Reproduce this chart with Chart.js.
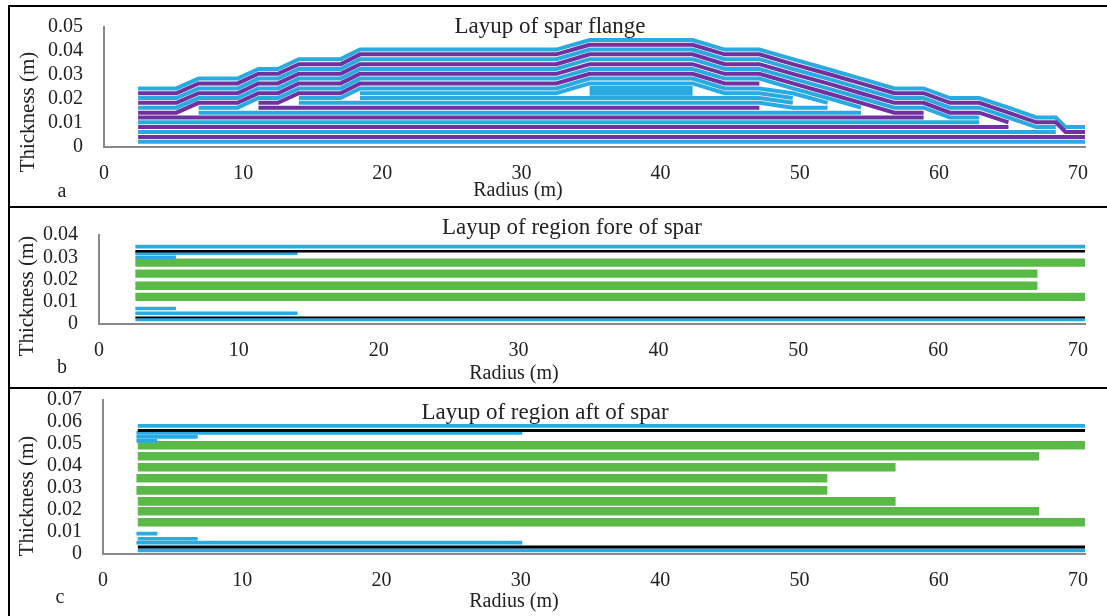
<!DOCTYPE html>
<html>
<head>
<meta charset="utf-8">
<script src="https://cdn.jsdelivr.net/npm/chart.js@4.4.1/dist/chart.umd.min.js"></script>
<style>
    html, body { margin: 0; padding: 0; background: #fff; overflow: hidden; }
    #wrap { position: relative; width: 1107px; height: 616px; }
    canvas { position: absolute; left: 0; }
    .frame { position: absolute; left: 8px; width: 1110px; border: 2px solid #000; box-sizing: border-box; pointer-events: none; }
</style>
</head>
<body>
<div id="wrap">
    <canvas id="flange" width="1107" height="207" style="top:0"></canvas>
    <canvas id="fore" width="1107" height="181" style="top:207px"></canvas>
    <canvas id="aft" width="1107" height="228" style="top:388px"></canvas>
    <div class="frame" style="top:5px;height:203px"></div>
    <div class="frame" style="top:206px;height:183px"></div>
    <div class="frame" style="top:387px;height:232px"></div>
</div>
<script>
// tick values
const radiusTicks = [0, 10, 20, 30, 40, 50, 60, 70];
const flangeTicks = [0, 0.01, 0.02, 0.03, 0.04, 0.05];
const foreTicks = [0, 0.01, 0.02, 0.03, 0.04];
const aftTicks = [0, 0.01, 0.02, 0.03, 0.04, 0.05, 0.06, 0.07];

// spar flange plies: [radius (m), thickness (m)]
const ply1 = [[2.45, .0022], [70.5, .0022]];
const ply2 = [[2.45, .0042], [70.5, .0042]];
const ply3 = [[2.45, .0063], [68.4, .0063]];
const ply4 = [[2.45, .0083], [65.0, .0083]];
const ply5 = [[2.45, .0103], [62.9, .0103]];
const ply6 = [[2.45, .0123], [58.9, .0123]];
const mid1 = [[6.8, .0143], [54.4, .0143]];
const mid2 = [[11.1, .0164], [47.1, .0164]];
const mid3 = [[14.0, .0184], [47.1, .0184], [49.5, .0164], [52.0, .0164]];
const mid4 = [[18.4, .0204], [47.1, .0204], [49.5, .0184]];
const block1 = [[34.9, .0224], [42.3, .0224]];
const block2 = [[34.9, .0244], [42.3, .0244]];
const mid5 = [[18.4, .0224], [32.5, .0224], [34.9, .0265], [42.3, .0265], [44.6, .0224], [47.1, .0224], [49.5, .0204]];
const mid6 = [[14.0, .0204], [17.0, .0204], [18.4, .0244], [32.5, .0244], [34.9, .0285], [42.3, .0285], [44.6, .0244],
    [47.1, .0244], [49.5, .0224], [52.0, .0184]];
const mid7 = [[11.1, .0184], [12.5, .0184], [14.0, .0224], [17.0, .0224], [18.4, .0265], [32.5, .0265], [34.9, .0305],
    [42.3, .0305], [44.6, .0265], [47.1, .0265]];
const mid8 = [[6.8, .0164], [9.6, .0164], [11.1, .0204], [12.5, .0204], [14.0, .0244], [17.0, .0244], [18.4, .0285],
    [32.5, .0285], [34.9, .0325], [42.3, .0325], [44.6, .0285], [47.1, .0285], [49.5, .0244], [52.0, .0204], [54.4, .0164]];
const cap1 = [[2.45, .0143], [5.2, .0143], [6.8, .0184], [9.6, .0184], [11.1, .0224], [12.5, .0224], [14.0, .0265],
    [17.0, .0265], [18.4, .0305], [32.5, .0305], [34.9, .0345], [42.3, .0345], [44.6, .0305], [47.1, .0305],
    [49.5, .0265], [52.0, .0224], [54.4, .0184], [56.8, .0143], [58.9, .0143]];
const cap2 = [[2.45, .0164], [5.2, .0164], [6.8, .0204], [9.6, .0204], [11.1, .0244], [12.5, .0244], [14.0, .0285],
    [17.0, .0285], [18.4, .0325], [32.5, .0325], [34.9, .0366], [42.3, .0366], [44.6, .0325], [47.1, .0325],
    [49.5, .0285], [52.0, .0244], [54.4, .0204], [56.8, .0164], [58.9, .0164], [60.8, .0123], [62.9, .0123]];
const cap3 = [[2.45, .0184], [5.2, .0184], [6.8, .0224], [9.6, .0224], [11.1, .0265], [12.5, .0265], [14.0, .0305],
    [17.0, .0305], [18.4, .0345], [32.5, .0345], [34.9, .0386], [42.3, .0386], [44.6, .0345], [47.1, .0345],
    [49.5, .0305], [52.0, .0265], [54.4, .0224], [56.8, .0184], [58.9, .0184], [60.8, .0143], [62.9, .0143], [65.0, .0103]];
const cap4 = [[2.45, .0204], [5.2, .0204], [6.8, .0244], [9.6, .0244], [11.1, .0285], [12.5, .0285], [14.0, .0325],
    [17.0, .0325], [18.4, .0366], [32.5, .0366], [34.9, .0406], [42.3, .0406], [44.6, .0366], [47.1, .0366],
    [49.5, .0325], [52.0, .0285], [54.4, .0244], [56.8, .0204], [58.9, .0204], [60.8, .0164], [62.9, .0164],
    [65.0, .0123], [67.0, .0083], [68.4, .0083]];
const cap5 = [[2.45, .0224], [5.2, .0224], [6.8, .0265], [9.6, .0265], [11.1, .0305], [12.5, .0305], [14.0, .0345],
    [17.0, .0345], [18.4, .0386], [32.5, .0386], [34.9, .0426], [42.3, .0426], [44.6, .0386], [47.1, .0386],
    [49.5, .0345], [52.0, .0305], [54.4, .0265], [56.8, .0224], [58.9, .0224], [60.8, .0184], [62.9, .0184],
    [65.0, .0143], [67.0, .0103], [68.4, .0103], [69.1, .0063], [70.5, .0063]];
const cap6 = [[2.45, .0244], [5.2, .0244], [6.8, .0285], [9.6, .0285], [11.1, .0325], [12.5, .0325], [14.0, .0366],
    [17.0, .0366], [18.4, .0406], [32.5, .0406], [34.9, .0446], [42.3, .0446], [44.6, .0406], [47.1, .0406],
    [49.5, .0366], [52.0, .0325], [54.4, .0285], [56.8, .0244], [58.9, .0244], [60.8, .0204], [62.9, .0204],
    [65.0, .0164], [67.0, .0123], [68.4, .0123], [69.1, .0083], [70.5, .0083]];

// region fore of spar
const foreSkinOut = [[2.6, .0348], [70.5, .0348]];
const foreGelOut = [[2.6, .0327], [70.5, .0327]];
const foreTriaxOut = [[2.6, .0318], [14.2, .0318]];
const foreRootOut = [[2.6, .0300], [5.5, .0300]];
const foreCore1 = [[2.6, .0276], [70.5, .0276]];
const foreCore2 = [[2.6, .0226], [67.1, .0226]];
const foreCore3 = [[2.6, .0172], [67.1, .0172]];
const foreCore4 = [[2.6, .0122], [70.5, .0122]];
const foreRootIn = [[2.6, .0070], [5.5, .0070]];
const foreTriaxIn = [[2.6, .0048], [14.2, .0048]];
const foreGelIn = [[2.6, .0030], [70.5, .0030]];
const foreSkinIn = [[2.6, .0021], [70.5, .0021]];

// region aft of spar
const aftSkinOut = [[2.5, .0580], [70.5, .0580]];
const aftGelOut = [[2.5, .0559], [70.5, .0559]];
const aftTriaxOut = [[2.4, .0548], [30.1, .0548]];
const aftRootOut1 = [[2.4, .0530], [6.8, .0530]];
const aftRootOut2 = [[2.4, .0512], [3.9, .0512]];
const aftCore1 = [[2.5, .0492], [70.5, .0492]];
const aftCore2 = [[2.5, .0442], [67.2, .0442]];
const aftCore3 = [[2.5, .0392], [56.9, .0392]];
const aftCore4 = [[2.4, .0342], [52.0, .0342]];
const aftCore5 = [[2.4, .0287], [52.0, .0287]];
const aftCore6 = [[2.5, .0237], [56.9, .0237]];
const aftCore7 = [[2.5, .0192], [67.2, .0192]];
const aftCore8 = [[2.5, .0142], [70.5, .0142]];
const aftRootIn2 = [[2.4, .0090], [3.9, .0090]];
const aftRootIn1 = [[2.5, .0067], [6.8, .0067]];
const aftTriaxIn = [[2.4, .0049], [30.1, .0049]];
const aftGelIn = [[2.5, .0029], [70.5, .0029]];
const aftSkinIn = [[2.5, .0014], [70.5, .0014]];

const BLUE = '#29abe2', PURPLE = '#7030a0', GREEN = '#5bb947', BLACK = '#000000';
const TEXT = '#222222';
Chart.defaults.font.family = '"Liberation Serif", "Times New Roman", serif';
Chart.defaults.color = TEXT;

function textPlugin(items) {
    return {
        id: 'panelText',
        afterDraw(chart) {
            const ctx = chart.ctx;
            items.forEach(t => {
                ctx.save();
                ctx.font = t.size + 'px "Liberation Serif", "Times New Roman", serif';
                ctx.fillStyle = TEXT;
                ctx.textAlign = 'center';
                ctx.textBaseline = 'middle';
                ctx.translate(t.x, t.y);
                if (t.rot) ctx.rotate(-Math.PI / 2);
                ctx.fillText(t.text, 0, 0);
                ctx.restore();
            });
        }
    };
}

function buildPanel(id, layers, yTicks, box, texts) {
    const canvas = document.getElementById(id);
    const W = canvas.width, H = canvas.height;
    const xAxisH = 40;
    return new Chart(canvas, {
        type: 'line',
        data: {
            datasets: layers.map(l => ({
                data: l[0].map(p => ({ x: p[0], y: p[1] })),
                borderColor: l[1],
                borderWidth: l[2],
                pointRadius: 0,
                fill: false,
                tension: 0,
                borderCapStyle: 'butt',
                borderJoinStyle: 'miter'
            }))
        },
        options: {
            responsive: false,
            animation: false,
            events: [],
            layout: { padding: { left: 0, top: box.top, right: W - box.right, bottom: H - box.bottom - xAxisH } },
            plugins: { legend: { display: false }, tooltip: { enabled: false } },
            scales: {
                x: {
                    type: 'linear', min: 0, max: 70.5,
                    afterBuildTicks: ax => { ax.ticks = radiusTicks.map(v => ({ value: v })); },
                    afterFit: s => { s.height = xAxisH; s.paddingLeft = 0; s.paddingRight = 0; },
                    grid: { display: false, drawTicks: false },
                    border: { color: '#898989', width: 2 },
                    ticks: { font: { size: 20 }, padding: 15, maxRotation: 0, autoSkip: false, includeBounds: false,
                        callback: v => String(v) }
                },
                y: {
                    type: 'linear', min: 0, max: yTicks[yTicks.length - 1],
                    afterBuildTicks: ax => { ax.ticks = yTicks.map(v => ({ value: v })); },
                    afterFit: s => { s.width = box.left; s.paddingTop = 0; s.paddingBottom = 0; },
                    grid: { display: false, drawTicks: false },
                    border: { color: '#898989', width: 2 },
                    ticks: { font: { size: 20 }, padding: 21, autoSkip: false, callback: v => String(v) }
                }
            }
        },
        plugins: [textPlugin(texts)]
    });
}

// panel a
buildPanel('flange', [
    [ply1, BLUE, 4], [ply2, PURPLE, 4], [ply3, BLUE, 4], [ply4, PURPLE, 4], [ply5, BLUE, 4], [ply6, PURPLE, 4],
    [mid1, BLUE, 4], [mid2, PURPLE, 4], [mid3, BLUE, 4], [mid4, BLUE, 4], [block1, BLUE, 5], [block2, BLUE, 5],
    [mid5, BLUE, 4], [mid6, BLUE, 4], [mid7, PURPLE, 4], [mid8, BLUE, 4],
    [cap1, PURPLE, 4], [cap2, BLUE, 4], [cap3, PURPLE, 4], [cap4, BLUE, 4], [cap5, PURPLE, 4], [cap6, BLUE, 4]
], flangeTicks, { left: 104, right: 1085, top: 27, bottom: 147 }, [
    { text: 'Layup of spar flange', x: 550, y: 27, size: 23 },
    { text: 'Radius (m)', x: 518, y: 191, size: 20 },
    { text: 'a', x: 62, y: 192, size: 20 },
    { text: 'Thickness (m)', x: 28, y: 112, size: 21, rot: true }
]);

// panel b
buildPanel('fore', [
    [foreSkinOut, BLUE, 3.7], [foreGelOut, BLACK, 2.6], [foreTriaxOut, BLUE, 3.6], [foreRootOut, BLUE, 3.6],
    [foreCore1, GREEN, 8.3], [foreCore2, GREEN, 8.3], [foreCore3, GREEN, 8.3], [foreCore4, GREEN, 8.3],
    [foreRootIn, BLUE, 3.6], [foreTriaxIn, BLUE, 3.6], [foreGelIn, BLACK, 1.8], [foreSkinIn, BLUE, 3.7]
], foreTicks, { left: 99, right: 1085, top: 28, bottom: 117 }, [
    { text: 'Layup of region fore of spar', x: 572, y: 21, size: 23 },
    { text: 'Radius (m)', x: 514, y: 167, size: 20 },
    { text: 'b', x: 62, y: 161, size: 20 },
    { text: 'Thickness (m)', x: 27, y: 89, size: 21, rot: true }
]);

// panel c
buildPanel('aft', [
    [aftSkinOut, BLUE, 3.7], [aftGelOut, BLACK, 3], [aftTriaxOut, BLUE, 3.7], [aftRootOut1, BLUE, 3.7],
    [aftRootOut2, BLUE, 3.7],
    [aftCore1, GREEN, 8.7], [aftCore2, GREEN, 8.7], [aftCore3, GREEN, 8.7], [aftCore4, GREEN, 8.7],
    [aftCore5, GREEN, 8.7], [aftCore6, GREEN, 8.7], [aftCore7, GREEN, 8.7], [aftCore8, GREEN, 8.7],
    [aftRootIn2, BLUE, 3.7], [aftRootIn1, BLUE, 3.7], [aftTriaxIn, BLUE, 3.7], [aftGelIn, BLACK, 3], [aftSkinIn, BLUE, 3.7]
], aftTicks, { left: 103, right: 1085, top: 11.5, bottom: 165.5 }, [
    { text: 'Layup of region aft of spar', x: 545, y: 25, size: 23 },
    { text: 'Radius (m)', x: 514, y: 214, size: 20 },
    { text: 'c', x: 60, y: 210, size: 20 },
    { text: 'Thickness (m)', x: 27, y: 108, size: 21, rot: true }
]);
</script>
</body>
</html>
